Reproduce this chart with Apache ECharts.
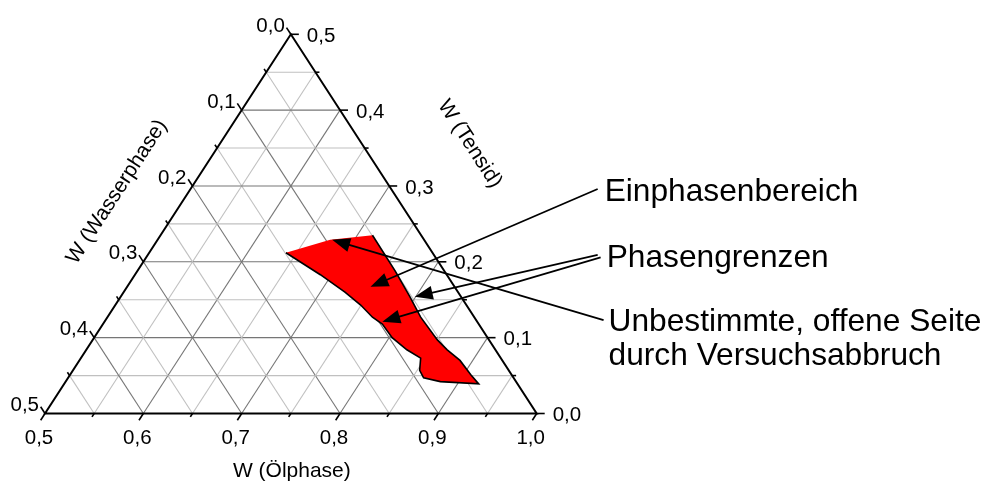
<!DOCTYPE html>
<html><head><meta charset="utf-8">
<script src="https://cdn.jsdelivr.net/npm/echarts@6/dist/echarts.min.js"></script>
<style>html,body{margin:0;padding:0;background:#fff}#c{width:988px;height:483px}</style>
</head><body><div id="c"></div><script>
// ---------------- data ----------------
const oelTicks = [0.5, 0.6, 0.7, 0.8, 0.9, 1.0];
const oelLabels = ['0,5', '0,6', '0,7', '0,8', '0,9', '1,0'];
const wasserTicks = [0.0, 0.1, 0.2, 0.3, 0.4, 0.5];
const wasserLabels = ['0,0', '0,1', '0,2', '0,3', '0,4', '0,5'];
const tensidTicks = [0.5, 0.4, 0.3, 0.2, 0.1, 0.0];
const tensidLabels = ['0,5', '0,4', '0,3', '0,2', '0,1', '0,0'];
const axisTitles = ['W (Ölphase)', 'W (Wasserphase)', 'W (Tensid)'];

// Einphasenbereich boundary (W Ölphase, W Tensid)
const regionOel = [0.639, 0.675, 0.716, 0.762, 0.794, 0.818, 0.850, 0.867, 0.887, 0.907, 0.921,
                   0.881, 0.861, 0.852, 0.845, 0.826, 0.803, 0.784, 0.769, 0.749, 0.725, 0.688];
const regionTensid = [0.212, 0.229, 0.235, 0.188, 0.154, 0.127, 0.097, 0.084, 0.070, 0.051, 0.039,
                      0.042, 0.047, 0.057, 0.073, 0.084, 0.100, 0.118, 0.127, 0.143, 0.160, 0.183];

const annoTexts = ['Einphasenbereich', 'Phasengrenzen', '', 'Unbestimmte, offene Seite\ndurch Versuchsabbruch'];
const arrowTipOel = [0.747, 0.799, 0.782, 0.677];
const arrowTipTensid = [0.167, 0.154, 0.121, 0.229];
const arrowTailOel = [0.914, 0.957, 0.962, 1.006];
const arrowTailTensid = [0.296, 0.209, 0.206, 0.123];

// ---------------- helpers ----------------
const FONT = 'Arial, "Liberation Sans", sans-serif';
const r2 = v => Math.round(v * 1000) / 1000;
function tern(o, t) { return [r2(o + t / 2), r2(t)]; }   // (Ölphase, Tensid) -> plot x/y

// grid segments
const gridSegs = [];
for (let k = 1; k <= 9; k++) {
  const c = r2(k * 0.05), major = k % 2 === 0 ? 1 : 0;
  gridSegs.push([...tern(0.5, c), ...tern(1 - c, c), major]);          // constant Tensid
  const o = r2(0.5 + c);
  gridSegs.push([...tern(o, 0), ...tern(o, 1 - o), major]);            // constant Ölphase
  gridSegs.push([...tern(1 - c, 0), ...tern(0.5, 0.5 - c), major]);    // constant Wasser
}
// ticks: [x, y, outX, outY, major]
const tickData = [];
for (let k = 0; k <= 10; k++) {
  const c = r2(k * 0.05), major = k % 2 === 0 ? 1 : 0;
  const o = r2(0.5 + c);
  tickData.push([...tern(o, 0), ...tern(o, -0.02), major]);                     // bottom
  tickData.push([...tern(0.5, 0.5 - c), ...tern(0.48, 0.5 - c + 0.02), major]); // left
  tickData.push([...tern(1 - c, c), ...tern(1 - c + 0.02, c), major]);          // right
}
// tick labels: [x, y, side, idx]
const labelData = [];
oelTicks.forEach((o, i) => labelData.push([...tern(o, 0), 0, i]));
wasserTicks.forEach((w, i) => labelData.push([...tern(0.5, 0.5 - w), 1, i]));
tensidTicks.forEach((t, i) => labelData.push([...tern(1 - t, t), 2, i]));
const labelTexts = [oelLabels, wasserLabels, tensidLabels];
const labelLayout = [
  { dx: -6, dy: 25, align: 'center' },
  { dx: -6, dy: -8, align: 'right' },
  { dx: 16, dy: 2, align: 'left' }
];
// axis title anchors (side midpoints)
const titleData = [[...tern(0.75, 0), 0], [...tern(0.5, 0.25), 1], [...tern(0.75, 0.25), 2]];
const titleLayout = [{ dx: 1, dy: 58 }, { dx: -51, dy: -32 }, { dx: 56, dy: -80 }];

const regionData = regionOel.map((o, i) => tern(o, regionTensid[i]));
const arrowData = arrowTipOel.map((o, i) => [...tern(o, arrowTipTensid[i]), ...tern(arrowTailOel[i], arrowTailTensid[i]), i]);
const annoLayout = [{ dx: 7, dy: 3 }, { dx: 9, dy: 3 }, null, { dx: 5, dy: 19 }];

const corners = [tern(0.5, 0), tern(1, 0), tern(0.5, 0.5)];

// ---------------- chart ----------------
const chart = echarts.init(document.getElementById('c'), null, { renderer: 'canvas' });
chart.setOption({
  animation: false,
  backgroundColor: '#ffffff',
  grid: { left: 45, right: 451.3, top: 34.3, bottom: 69.5 },
  xAxis: { type: 'value', min: 0.5, max: 1.0, show: false },
  yAxis: { type: 'value', min: 0, max: 0.5, show: false },
  series: [
    { // grid
      type: 'custom', z: 1, silent: true, encode: { x: [0, 2], y: [1, 3] }, data: gridSegs,
      renderItem: (p, api) => {
        const a = api.coord([api.value(0), api.value(1)]), b = api.coord([api.value(2), api.value(3)]);
        return { type: 'line', shape: { x1: a[0], y1: a[1], x2: b[0], y2: b[1] },
          style: { stroke: api.value(4) ? '#767676' : '#c0c0c0', lineWidth: 1.1 } };
      }
    },
    { // region
      type: 'custom', z: 2, silent: true, encode: { x: 0, y: 1 }, data: regionData,
      renderItem: (p, api) => {
        if (p.dataIndex !== 0) return null;
        const pts = regionData.map(d => api.coord(d));
        const edge = pts.slice(2).concat([pts[0]]);
        return { type: 'group', children: [
          { type: 'polygon', shape: { points: pts }, style: { fill: '#ff0000', stroke: null } },
          { type: 'polyline', shape: { points: edge }, style: { stroke: '#000', lineWidth: 1.6, fill: null } }
        ] };
      }
    },
    { // frame
      type: 'custom', z: 3, silent: true, encode: { x: 0, y: 1 }, data: corners,
      renderItem: (p, api) => {
        if (p.dataIndex !== 0) return null;
        return { type: 'polygon', shape: { points: corners.map(c => api.coord(c)) },
          style: { fill: null, stroke: '#000', lineWidth: 2 } };
      }
    },
    { // ticks
      type: 'custom', z: 3, silent: true, encode: { x: [0, 2], y: [1, 3] }, data: tickData,
      renderItem: (p, api) => {
        const a = api.coord([api.value(0), api.value(1)]), b = api.coord([api.value(2), api.value(3)]);
        const dx = b[0] - a[0], dy = b[1] - a[1], L = Math.hypot(dx, dy);
        const len = api.value(4) ? 8 : 4;
        return { type: 'line', shape: { x1: a[0], y1: a[1], x2: a[0] + dx / L * len, y2: a[1] + dy / L * len },
          style: { stroke: '#000', lineWidth: 1.6 } };
      }
    },
    { // tick labels
      type: 'custom', z: 4, silent: true, encode: { x: 0, y: 1 }, data: labelData,
      renderItem: (p, api) => {
        const a = api.coord([api.value(0), api.value(1)]);
        const side = api.value(2), L = labelLayout[side];
        return { type: 'text', x: a[0] + L.dx, y: a[1] + L.dy,
          style: { text: labelTexts[side][api.value(3)], fill: '#000', fontSize: 20.5, fontFamily: FONT,
            align: L.align, verticalAlign: 'middle' } };
      }
    },
    { // axis titles
      type: 'custom', z: 4, silent: true, encode: { x: 0, y: 1 }, data: titleData,
      renderItem: (p, api) => {
        const a = api.coord([api.value(0), api.value(1)]);
        const side = api.value(2), L = titleLayout[side];
        const bl = api.coord(corners[0]), br = api.coord(corners[1]), tp = api.coord(corners[2]);
        let rot = 0;
        if (side === 1) rot = Math.atan2(bl[1] - tp[1], tp[0] - bl[0]);
        if (side === 2) rot = -Math.atan2(br[1] - tp[1], br[0] - tp[0]);
        return { type: 'text', x: a[0] + L.dx, y: a[1] + L.dy, rotation: rot,
          style: { text: axisTitles[side], fill: '#000', fontSize: 21, fontFamily: FONT,
            align: 'center', verticalAlign: 'middle' } };
      }
    },
    { // arrows + annotation texts
      type: 'custom', z: 5, silent: true, encode: { x: [0, 2], y: [1, 3] }, data: arrowData,
      renderItem: (p, api) => {
        const T = api.coord([api.value(0), api.value(1)]), S = api.coord([api.value(2), api.value(3)]);
        const i = api.value(4);
        const dx = T[0] - S[0], dy = T[1] - S[1], D = Math.hypot(dx, dy);
        const ux = dx / D, uy = dy / D, HL = 18, HW = 7;
        const B = [T[0] - ux * HL, T[1] - uy * HL];
        const children = [
          { type: 'line', shape: { x1: S[0], y1: S[1], x2: B[0] + ux * 2, y2: B[1] + uy * 2 },
            style: { stroke: '#000', lineWidth: 1.8 } },
          { type: 'polygon', shape: { points: [T, [B[0] - uy * HW, B[1] + ux * HW], [B[0] + uy * HW, B[1] - ux * HW]] },
            style: { fill: '#000' } }
        ];
        const L = annoLayout[i];
        if (annoTexts[i]) {
          children.push({ type: 'text', x: S[0] + L.dx, y: S[1] + L.dy,
            style: { text: annoTexts[i], fill: '#000', fontSize: 31.7, fontFamily: FONT, lineHeight: 34,
              align: 'left', verticalAlign: 'middle' } });
        }
        return { type: 'group', children };
      }
    }
  ]
});
</script></body></html>
